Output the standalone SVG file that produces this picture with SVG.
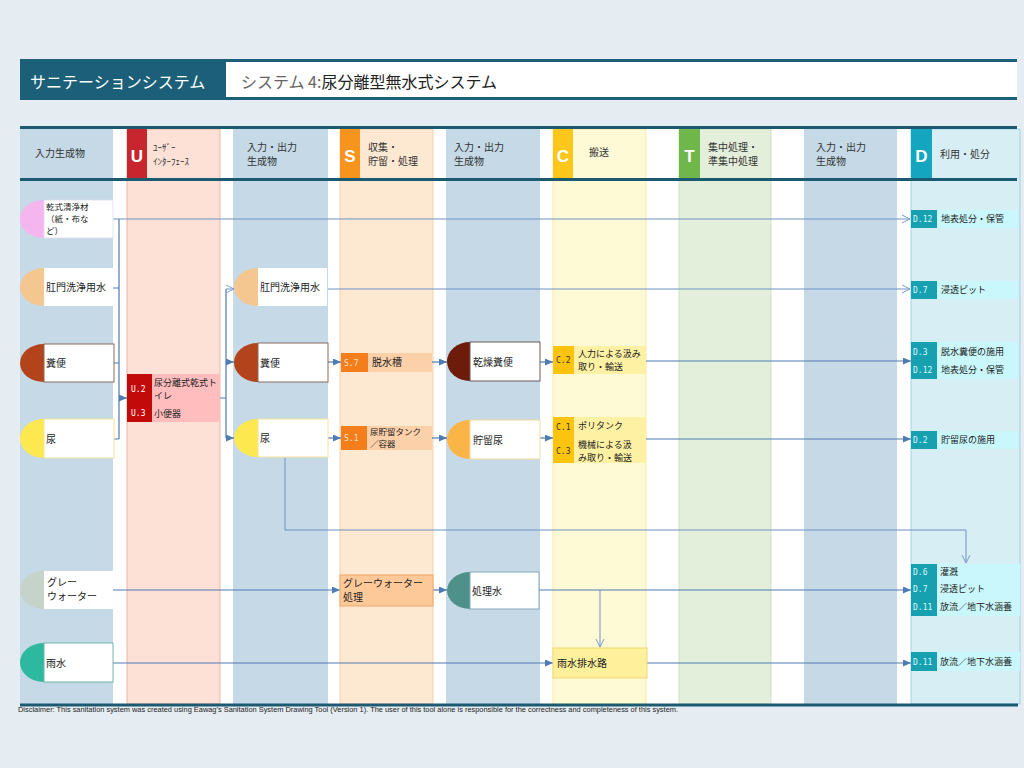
<svg xmlns="http://www.w3.org/2000/svg" width="1024" height="768" viewBox="0 0 1024 768">
<defs>
<style>
.t{font-family:"Noto Sans CJK JP","Noto Sans",sans-serif;font-size:10px;fill:#222}
.h{font-family:"Noto Sans CJK JP","Noto Sans",sans-serif;font-size:10px;fill:#333}
.hk{font-family:"Noto Sans CJK JP","Noto Sans",sans-serif;font-size:9px;fill:#333}
.L{font-family:"Liberation Sans",Arial,sans-serif;font-weight:bold;font-size:17px;fill:#fff;text-anchor:middle}
.cw{font-family:"DejaVu Sans Mono",monospace;font-size:8px;fill:#fff}
.cd{font-family:"DejaVu Sans Mono",monospace;font-size:8px;fill:#333}
.cl{font-family:"DejaVu Sans Mono",monospace;font-size:8px;fill:#d8fbff}
.box{fill:#fff}
.c{stroke:#4f7bb3;stroke-width:1.2;fill:none}
.ca{stroke:#4f7bb3;stroke-width:1.2;fill:none;marker-end:url(#af)}
.co{stroke:#6f93c3;stroke-width:1;fill:none;marker-end:url(#ao)}
</style>
<marker id="af" markerUnits="userSpaceOnUse" markerWidth="8" markerHeight="7" refX="8" refY="3.5" orient="auto"><path d="M0,0 L8,3.5 L0,7 z" fill="#4f7bb3"/></marker>
<marker id="ao" markerUnits="userSpaceOnUse" markerWidth="10" markerHeight="10" refX="9" refY="5" orient="auto"><path d="M1,1 L9,5 L1,9" fill="none" stroke="#7d9dc8" stroke-width="1"/></marker>
</defs>
<rect x="0" y="0" width="1024" height="768" fill="#e5edf3"/>
<!-- title -->
<g id="title">
<rect x="20" y="59" width="997" height="41" fill="#1c5f78"/>
<rect x="226" y="62" width="791" height="35" fill="#fff"/>
<text x="30" y="88" style="font-family:'Noto Sans CJK JP',sans-serif;font-size:16px;fill:#fff">サニテーションシステム</text>
<text x="241" y="88" style="font-family:'Noto Sans CJK JP',sans-serif;font-size:16px;fill:#666">システム  4:<tspan fill="#222">尿分離型無水式システム</tspan></text>
</g>
<!-- columns -->
<g id="columns">
<rect x="20" y="127" width="1000" height="578" fill="#fff"/>
<rect x="20" y="129" width="93" height="575" fill="#c5d9e6"/>
<rect x="127" y="129" width="93" height="575" fill="#fde0d6" stroke="#eaa99a" stroke-width="0.8"/>
<rect x="233" y="129" width="95" height="575" fill="#c5d9e6"/>
<rect x="340" y="129" width="93" height="575" fill="#fde8d2" stroke="#f5c9a0" stroke-width="0.8"/>
<rect x="446" y="129" width="94" height="575" fill="#c5d9e6"/>
<rect x="553" y="129" width="93" height="575" fill="#fefad6" stroke="#f6e690" stroke-width="0.8"/>
<rect x="679" y="129" width="92" height="575" fill="#e3efdb" stroke="#c9ddb9" stroke-width="0.8"/>
<rect x="804" y="129" width="93" height="575" fill="#c5d9e6"/>
<rect x="911" y="129" width="109" height="575" fill="#d7eef5" stroke="#8fcadb" stroke-width="0.8"/>
<rect x="127" y="129" width="20" height="49" fill="#c8262e"/>
<rect x="340" y="129" width="20" height="49" fill="#f7941d"/>
<rect x="553" y="129" width="20" height="49" fill="#fcc61a"/>
<rect x="679" y="129" width="21" height="49" fill="#6fb64b"/>
<rect x="911" y="129" width="21" height="49" fill="#14a6c1"/>
<text class="L" x="137" y="162">U</text>
<text class="L" x="350" y="162">S</text>
<text class="L" x="563" y="162">C</text>
<text class="L" x="689.5" y="162">T</text>
<text class="L" x="921.5" y="162">D</text>
<text class="h" x="35" y="157">入力生成物</text>
<text class="hk" x="153" y="151">ﾕｰｻﾞｰ</text>
<text class="hk" x="153" y="165">ｲﾝﾀｰﾌｪｰｽ</text>
<text class="h" x="247" y="151">入力・出力</text>
<text class="h" x="247" y="165">生成物</text>
<text class="h" x="368" y="151">収集・</text>
<text class="h" x="368" y="165">貯留・処理</text>
<text class="h" x="454" y="151">入力・出力</text>
<text class="h" x="454" y="165">生成物</text>
<text class="h" x="589" y="156">搬送</text>
<text class="h" x="708" y="151">集中処理・</text>
<text class="h" x="708" y="165">準集中処理</text>
<text class="h" x="816" y="151">入力・出力</text>
<text class="h" x="816" y="165">生成物</text>
<text class="h" x="940" y="158">利用・処分</text>
<line x1="20" y1="127.5" x2="1017" y2="127.5" stroke="#1c5a72" stroke-width="3"/>
<line x1="20" y1="179.5" x2="1017" y2="179.5" stroke="#1c5a72" stroke-width="3"/>
<line x1="20" y1="705" x2="1018" y2="705" stroke="#1c5a72" stroke-width="3"/>
</g>
<!-- connectors -->
<g id="connectors">
<path class="co" d="M113,219 H910"/>
<path class="c" d="M119,219 V439 M113,288 H119 M114,363 H119 M114,439 H119"/>
<path class="ca" d="M119,398 H127"/>
<path class="c" d="M220,398 H226 M226,289 V438"/>
<path class="co" d="M226,289 H234"/>
<path class="ca" d="M226,362 H234"/>
<path class="ca" d="M226,438 H234"/>
<path class="co" d="M328,289 H910"/>
<path class="ca" d="M328,362 H341"/>
<path class="ca" d="M432,362 H447"/>
<path class="ca" d="M540,362 H553"/>
<path class="ca" d="M646,361 H911"/>
<path class="ca" d="M328,438 H341"/>
<path class="ca" d="M432,438 H447"/>
<path class="ca" d="M540,438 H553"/>
<path class="ca" d="M646,439 H911"/>
<path class="co" d="M285,458 V530 H966 V563"/>
<path class="ca" d="M113,590 H340"/>
<path class="ca" d="M433,590 H447"/>
<path class="ca" d="M539,590 H911"/>
<path class="co" d="M600,590 V647"/>
<path class="ca" d="M113,663 H553"/>
<path class="ca" d="M647,663 H911"/>
</g>
<!-- input products -->
<g id="n-dry-cleansing">
<path d="M44,200 A24,19 0 0 0 44,238 Z" fill="#f5b6f0"/>
<rect x="44" y="200" width="69" height="38" class="box" stroke="#dcdcef" stroke-width="0.8"/>
<text class="t" x="46" y="209.5" style="font-size:8.5px">乾式清浄材</text>
<text class="t" x="46" y="221.5" style="font-size:8.5px">（紙・布な</text>
<text class="t" x="46" y="233.5" style="font-size:8.5px">ど）</text>
</g>
<g id="n-anal-water-1">
<path d="M44,268 A24,19 0 0 0 44,306 Z" fill="#f3c78f"/>
<rect x="44" y="268" width="69" height="38" class="box"/>
<text class="t" x="46" y="291">肛門洗浄用水</text>
</g>
<g id="n-feces-1">
<path d="M44,344 A24,19 0 0 0 44,382 Z" fill="#b3431b"/>
<rect x="44" y="344" width="70" height="38" class="box" stroke="#8a6a62" stroke-width="1"/>
<text class="t" x="46" y="367">糞便</text>
</g>
<g id="n-urine-1">
<path d="M44,419 A24,19.5 0 0 0 44,458 Z" fill="#fde94f"/>
<rect x="44" y="419" width="70" height="39" class="box" stroke="#f2e49a" stroke-width="1"/>
<text class="t" x="46" y="443">尿</text>
</g>
<g id="n-greywater">
<path d="M44,571 A24,19 0 0 0 44,609 Z" fill="#c6d3cb"/>
<rect x="44" y="571" width="69" height="38" class="box"/>
<text class="t" x="47" y="586">グレー</text>
<text class="t" x="47" y="600">ウォーター</text>
</g>
<g id="n-rainwater">
<path d="M44,643 A24,19.5 0 0 0 44,682 Z" fill="#2db99f"/>
<rect x="44" y="643" width="69" height="39" class="box" stroke="#6fb8aa" stroke-width="1"/>
<text class="t" x="46" y="667">雨水</text>
</g>
<!-- user interface -->
<g id="n-U2-U3">
<rect x="127" y="374" width="25" height="48" fill="#c20a0a"/>
<rect x="152" y="374" width="68" height="48" fill="#ffbdbd"/>
<text class="cw" x="131" y="392">U.2</text>
<text class="cw" x="131" y="416">U.3</text>
<text class="t" x="154" y="386" style="font-size:9px">尿分離式乾式ト</text>
<text class="t" x="154" y="398.5" style="font-size:9px">イレ</text>
<text class="t" x="154" y="417" style="font-size:9px">小便器</text>
</g>
<!-- col 3 products -->
<g id="n-anal-water-2">
<path d="M258,268 A24,19 0 0 0 258,306 Z" fill="#f3c78f"/>
<rect x="258" y="268" width="69" height="38" class="box"/>
<text class="t" x="260" y="291">肛門洗浄用水</text>
</g>
<g id="n-feces-2">
<path d="M258,343 A24,19.5 0 0 0 258,382 Z" fill="#b3431b"/>
<rect x="258" y="343" width="70" height="39" class="box" stroke="#8a6a62" stroke-width="1"/>
<text class="t" x="260" y="367">糞便</text>
</g>
<g id="n-urine-2">
<path d="M258,419 A24,19 0 0 0 258,457 Z" fill="#fde94f"/>
<rect x="258" y="419" width="70" height="38" class="box" stroke="#f2e49a" stroke-width="1"/>
<text class="t" x="260" y="442">尿</text>
</g>
<!-- storage -->
<g id="n-S7">
<rect x="341" y="353" width="27" height="19" fill="#f47d1c"/>
<rect x="368" y="353" width="64" height="19" fill="#fcd0a8"/>
<text class="cw" x="344" y="366" style="fill:#fde3c8">S.7</text>
<text class="t" x="372" y="366">脱水槽</text>
</g>
<g id="n-S1">
<rect x="341" y="426" width="26" height="24" fill="#f47d1c"/>
<rect x="367" y="426" width="65" height="24" fill="#fcd0a8"/>
<text class="cw" x="344" y="441" style="fill:#fde3c8">S.1</text>
<text class="t" x="370" y="435" style="font-size:8.5px">尿貯留タンク</text>
<text class="t" x="370" y="447" style="font-size:8.5px">／容器</text>
</g>
<g id="n-greywater-treatment">
<rect x="340" y="575" width="93" height="31" fill="#fdc999" stroke="#f2a868" stroke-width="1"/>
<text class="t" x="343" y="587">グレーウォーター</text>
<text class="t" x="343" y="601">処理</text>
</g>
<!-- col 5 products -->
<g id="n-dried-feces">
<path d="M470,342 A23,19.5 0 0 0 470,381 Z" fill="#6d1b0b"/>
<rect x="470" y="342" width="70" height="39" class="box" stroke="#6a5a58" stroke-width="1"/>
<text class="t" x="473" y="366">乾燥糞便</text>
</g>
<g id="n-stored-urine">
<path d="M470,420 A23,19.5 0 0 0 470,459 Z" fill="#fbb546"/>
<rect x="470" y="420" width="70" height="39" class="box" stroke="#f6dca0" stroke-width="1"/>
<text class="t" x="473" y="444">貯留尿</text>
</g>
<g id="n-treated-water">
<path d="M470,572 A23,18.5 0 0 0 470,609 Z" fill="#4e918b"/>
<rect x="470" y="572" width="69" height="37" class="box" stroke="#86a9bb" stroke-width="1"/>
<text class="t" x="472" y="595">処理水</text>
</g>
<!-- conveyance -->
<g id="n-C2">
<rect x="553" y="346" width="21" height="28" fill="#fcc40f"/>
<rect x="574" y="346" width="72" height="28" fill="#fff1a3"/>
<text class="cd" x="556" y="363">C.2</text>
<text class="t" x="578" y="357" style="font-size:9px">人力による汲み</text>
<text class="t" x="578" y="370" style="font-size:9px">取り・輸送</text>
</g>
<g id="n-C1-C3">
<rect x="553" y="417" width="21" height="46" fill="#fcc40f"/>
<rect x="574" y="417" width="72" height="46" fill="#fff1a3"/>
<text class="cd" x="556" y="430">C.1</text>
<text class="cd" x="556" y="454">C.3</text>
<text class="t" x="578" y="429" style="font-size:9px">ポリタンク</text>
<text class="t" x="578" y="448" style="font-size:9px">機械による汲</text>
<text class="t" x="578" y="461" style="font-size:9px">み取り・輸送</text>
</g>
<g id="n-stormwater-drain">
<rect x="553" y="648" width="94" height="30" fill="#fff09b" stroke="#efd774" stroke-width="1"/>
<text class="t" x="557" y="667">雨水排水路</text>
</g>
<!-- use / disposal -->
<g id="n-D12">
<rect x="911" y="210" width="26" height="18" fill="#17a0b0"/>
<rect x="937" y="210" width="81" height="18" fill="#c9f7fb"/>
<text class="cl" x="913" y="222">D.12</text>
<text class="t" x="941" y="222" style="font-size:9px">地表処分・保管</text>
</g>
<g id="n-D7">
<rect x="911" y="281" width="26" height="18" fill="#17a0b0"/>
<rect x="937" y="281" width="81" height="18" fill="#c9f7fb"/>
<text class="cl" x="913" y="293">D.7</text>
<text class="t" x="941" y="293" style="font-size:9px">浸透ピット</text>
</g>
<g id="n-D3-D12">
<rect x="911" y="342" width="26" height="37" fill="#17a0b0"/>
<rect x="937" y="342" width="81" height="37" fill="#c9f7fb"/>
<text class="cl" x="913" y="355">D.3</text>
<text class="cl" x="913" y="373">D.12</text>
<text class="t" x="941" y="355" style="font-size:9px">脱水糞便の施用</text>
<text class="t" x="941" y="373" style="font-size:9px">地表処分・保管</text>
</g>
<g id="n-D2">
<rect x="911" y="431" width="26" height="18" fill="#17a0b0"/>
<rect x="937" y="431" width="81" height="18" fill="#c9f7fb"/>
<text class="cl" x="913" y="443">D.2</text>
<text class="t" x="941" y="443" style="font-size:9px">貯留尿の施用</text>
</g>
<g id="n-D6-D7-D11">
<rect x="911" y="564" width="26" height="52" fill="#17a0b0"/>
<rect x="937" y="564" width="83" height="52" fill="#c9f7fb"/>
<text class="cl" x="913" y="575">D.6</text>
<text class="cl" x="913" y="592">D.7</text>
<text class="cl" x="913" y="610">D.11</text>
<text class="t" x="940" y="575" style="font-size:9px">灌漑</text>
<text class="t" x="940" y="592" style="font-size:9px">浸透ピット</text>
<text class="t" x="940" y="610" style="font-size:9px">放流／地下水涵養</text>
</g>
<g id="n-D11">
<rect x="911" y="652" width="26" height="19" fill="#17a0b0"/>
<rect x="937" y="652" width="83" height="19" fill="#c9f7fb"/>
<text class="cl" x="913" y="665">D.11</text>
<text class="t" x="940" y="665" style="font-size:9px">放流／地下水涵養</text>
</g>
<text x="18" y="712" textLength="660" lengthAdjust="spacingAndGlyphs" style="font-family:'Liberation Sans Narrow','Liberation Sans',sans-serif;font-size:7px;fill:#222">Disclaimer: This sanitation system was created using Eawag's Sanitation System Drawing Tool (Version 1). The user of this tool alone is responsible for the correctness and completeness of this system.</text>
</svg>
